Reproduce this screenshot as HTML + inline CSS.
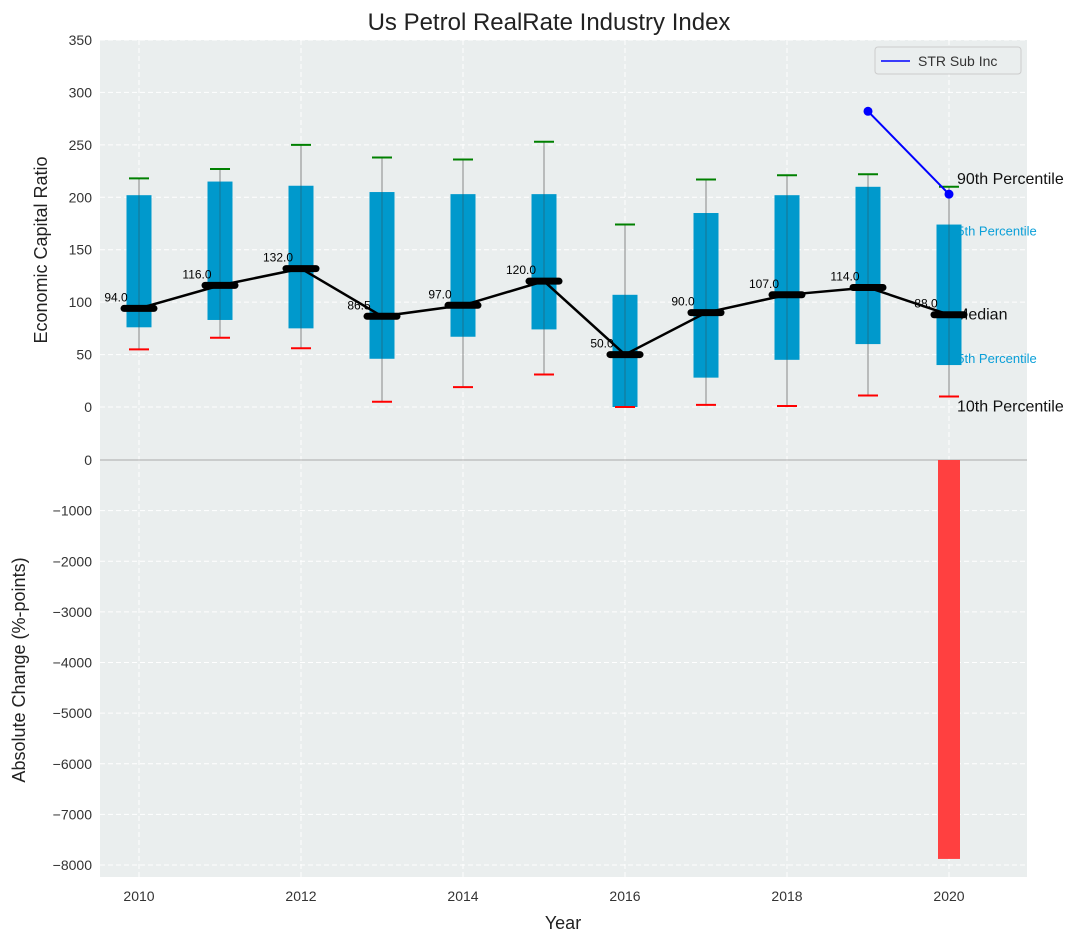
<!DOCTYPE html>
<html><head><meta charset="utf-8"><style>
body{margin:0;background:#fff;}
svg{display:block;font-family:"Liberation Sans","DejaVu Sans",sans-serif;}
</style></head><body>
<svg id="c" width="1092" height="942"></svg>
<script>
const years=[2010,2011,2012,2013,2014,2015,2016,2017,2018,2019,2020];
const q25=[76,83,75,46,67,74,0,28,45,60,40];
const q75=[202,215,211,205,203,203,107,185,202,210,174];
const p10=[55,66,56,5,19,31,0,2,1,11,10];
const p90=[218,227,250,238,236,253,174,217,221,222,210];
const medians=[94,116,132,86.5,97,120,50,90,107,114,88];
const strYears=[2019,2020];
const strVals=[282,203];
const barYears=[2020];
const barVals=[-7880];
const topTicks=[0,50,100,150,200,250,300,350];
const botTicks=[0,-1000,-2000,-3000,-4000,-5000,-6000,-7000,-8000];
const xTicks=[2010,2012,2014,2016,2018,2020];

const NS="http://www.w3.org/2000/svg";
const svg=document.getElementById('c');
function el(t,a,p){const e=document.createElementNS(NS,t);for(const k in a)e.setAttribute(k,a[k]);(p||svg).appendChild(e);return e;}
const L=100,R=1027,T1=40,B1=460,B2=877;
const X=v=>139+(v-2010)*81;
const Y1=v=>407-v*(367/350);
const Y2=v=>460+(-v)*(405/8000);

let r=el('rect',{x:L,y:T1,width:R-L,height:B1-T1,fill:'#eaeeee'});

r=el('rect',{x:L,y:B1,width:R-L,height:B2-B1,fill:'#eaeeee'});


xTicks.forEach(t=>{el('line',{x1:X(t),x2:X(t),y1:T1,y2:B2,stroke:'#fff','stroke-dasharray':'5,3','stroke-width':1});});
topTicks.forEach(t=>{el('line',{x1:L,x2:R,y1:Y1(t),y2:Y1(t),stroke:'#fff','stroke-dasharray':'5,3'});
 const tx=el('text',{x:L-8,y:Y1(t)+5,'text-anchor':'end','font-size':14,fill:'#333'});tx.textContent=t;
 });
botTicks.forEach(t=>{if(t!==0)el('line',{x1:L,x2:R,y1:Y2(t),y2:Y2(t),stroke:'#fff','stroke-dasharray':'5,3'});
 const tx=el('text',{x:L-8,y:Y2(t)+5,'text-anchor':'end','font-size':14,fill:'#333'});tx.textContent=(t<0?'\u2212'+(-t):t);
 });
el('line',{x1:L,x2:R,y1:B1,y2:B1,stroke:'#aaa','stroke-width':1});
xTicks.forEach(t=>{const tx=el('text',{x:X(t),y:B2+24,'text-anchor':'middle','font-size':14,fill:'#333'});tx.textContent=t;
 });

const last=years.length-1;const ax=X(years[last]);
[[p90[last],'90th Percentile',16,'#111',-3,8],[q75[last],'75th Percentile',13,'#0a9fd8',11,1],[medians[last],'Median',16,'#111',5,6],[q25[last],'25th Percentile',13,'#0a9fd8',-2,1],[p10[last],'10th Percentile',16,'#111',15,8]].forEach(a=>{
 const tx=el('text',{x:ax+a[5],y:Y1(a[0])+a[4],'font-size':a[2],fill:a[3]});tx.textContent=a[1];
 });

years.forEach((y,i)=>{
 const cx=X(y);
 el('line',{x1:cx,x2:cx,y1:Y1(p10[i]),y2:Y1(p90[i]),stroke:'#888','stroke-width':1});
 const b=el('rect',{x:cx-12.5,y:Y1(q75[i]),width:25,height:Y1(q25[i])-Y1(q75[i]),fill:'#0099cc'});
 
 el('line',{x1:cx,x2:cx,y1:Y1(q75[i]),y2:Y1(q25[i]),stroke:'#2a5a6a','stroke-width':1,opacity:0.6});
 el('line',{x1:cx-10,x2:cx+10,y1:Y1(p90[i]),y2:Y1(p90[i]),stroke:'green','stroke-width':2});
 el('line',{x1:cx-10,x2:cx+10,y1:Y1(p10[i]),y2:Y1(p10[i]),stroke:'red','stroke-width':2});
});
const mp=el('polyline',{points:years.map((y,i)=>X(y)+','+Y1(medians[i])).join(' '),fill:'none',stroke:'#000','stroke-width':2.5});

years.forEach((y,i)=>{
 const m=el('line',{x1:X(y)-15,x2:X(y)+15,y1:Y1(medians[i]),y2:Y1(medians[i]),stroke:'#000','stroke-width':7,'stroke-linecap':'round'});
 
 const tx=el('text',{x:X(y)-23,y:Y1(medians[i])-7,'text-anchor':'middle','font-size':12,fill:'#000'});tx.textContent=medians[i].toFixed(1);
 
});
const sl=el('polyline',{points:strYears.map((y,i)=>X(y)+','+Y1(strVals[i])).join(' '),fill:'none',stroke:'blue','stroke-width':2});

strYears.forEach((y,i)=>{const c=el('circle',{cx:X(y),cy:Y1(strVals[i]),r:4.5,fill:'blue'});});
barYears.forEach((y,i)=>{const b=el('rect',{x:X(y)-11,y:Y2(0),width:22,height:Y2(barVals[i])-Y2(0),fill:'#ff4040'});
 });

const lg=el('g',{});
el('rect',{x:875,y:47,width:146,height:27,fill:'#eaeeee',stroke:'#ccc',rx:3},lg);
el('line',{x1:881,x2:910,y1:61,y2:61,stroke:'blue','stroke-width':1.5},lg);
let t=el('text',{x:918,y:66,'font-size':14,fill:'#333'},lg);t.textContent='STR Sub Inc';


t=el('text',{x:549,y:30,'text-anchor':'middle','font-size':24,fill:'#222'});t.textContent='Us Petrol RealRate Industry Index';

t=el('text',{x:563,y:929,'text-anchor':'middle','font-size':18,fill:'#222'});t.textContent='Year';

t=el('text',{x:0,y:0,'text-anchor':'middle','font-size':18,fill:'#222',transform:'translate(47,250) rotate(-90)'});t.textContent='Economic Capital Ratio';

t=el('text',{x:0,y:0,'text-anchor':'middle','font-size':18,fill:'#222',transform:'translate(25,670) rotate(-90)'});t.textContent='Absolute Change (%-points)';

</script>
</body></html>
